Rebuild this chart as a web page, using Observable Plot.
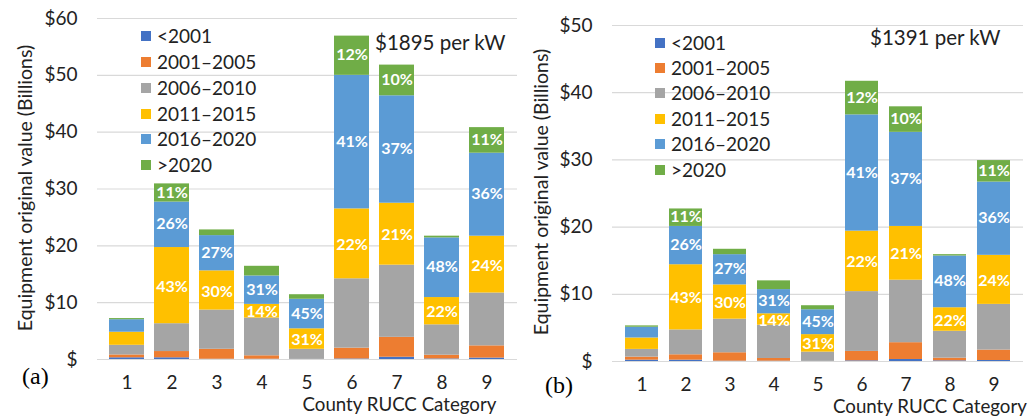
<!DOCTYPE html>
<html>
<head>
<meta charset="utf-8">
<script src="https://cdn.jsdelivr.net/npm/d3@7"></script>
<script src="https://cdn.jsdelivr.net/npm/@observablehq/plot@0.6"></script>
<style>
  html, body { margin: 0; padding: 0; background: #fff; }
  #wrap { position: relative; width: 1035px; height: 417px; overflow: hidden; font-family: Lato, "Open Sans", sans-serif; color: #222; }
  .panel { position: absolute; top: 0; }
  .abs { position: absolute; white-space: nowrap; line-height: 1; }
  .leg { position: absolute; font-size: 19px; line-height: 1; white-space: nowrap; }
  .sw { position: absolute; width: 10px; height: 10px; }
</style>
</head>
<body>
<div id="wrap"></div>
<script>
const categories = ["1", "2", "3", "4", "5", "6", "7", "8", "9"];
const series = ["<2001", "2001–2005", "2006–2010", "2011–2015", "2016–2020", ">2020"];
const seriesColors = ["#4472C4", "#ED7D31", "#A5A5A5", "#FFC000", "#5B9BD5", "#70AD47"];

// Panel (a): $1895 per kW, values in $ billions per segment
const a_lt2001   = [0.3, 0.3, 0.05, 0.05, 0.02, 0.1, 0.4, 0.1, 0.25];
const a_2001_05  = [0.5, 1.1, 1.75, 0.6, 0, 1.9, 3.5, 0.66, 2.15];
const a_2006_10  = [1.7, 4.9, 6.9, 6.65, 1.78, 12.2, 12.7, 5.34, 9.3];
const a_2011_15  = [2.3, 13.4, 6.9, 2.4, 3.6, 12.3, 10.9, 4.8, 10.0];
const a_2016_20  = [2.2, 8.0, 6.2, 5.0, 5.2, 23.5, 18.9, 10.5, 14.6];
const a_gt2020   = [0.2, 3.2, 1.0, 1.7, 0.8, 6.9, 5.4, 0.3, 4.5];

// Panel (b): $1391 per kW
const b_lt2001   = [0.2, 0.2, 0.05, 0.05, 0.02, 0.1, 0.3, 0.1, 0.15];
const b_2001_05  = [0.45, 0.8, 1.25, 0.4, 0, 1.4, 2.5, 0.4, 1.55];
const b_2006_10  = [1.15, 3.7, 5.0, 4.95, 1.38, 8.9, 9.3, 4.0, 6.8];
const b_2011_15  = [1.7, 9.7, 5.1, 1.7, 2.6, 9.0, 8.0, 3.5, 7.3];
const b_2016_20  = [1.6, 5.7, 4.5, 3.6, 3.7, 17.3, 14.0, 7.7, 10.9];
const b_gt2020   = [0.2, 2.6, 0.8, 1.3, 0.6, 5.0, 3.8, 0.2, 3.2];

// Percent labels shown on segments (same in both panels)
const pct_2011_15 = [null, "43%", "30%", "14%", "31%", "22%", "21%", "22%", "24%"];
const pct_2016_20 = [null, "26%", "27%", "31%", "45%", "41%", "37%", "48%", "36%"];
const pct_gt2020  = [null, "11%", null, null, null, "12%", "10%", null, "11%"];
const noLabels    = [null, null, null, null, null, null, null, null, null];

const ticksA = [0, 10, 20, 30, 40, 50, 60];
const ticksB = [0, 10, 20, 30, 40, 50];

function rowsFrom(valueArrays) {
  const labelArrays = [noLabels, noLabels, noLabels, pct_2011_15, pct_2016_20, pct_gt2020];
  const rows = [];
  series.forEach((s, i) => {
    categories.forEach((c, j) => {
      rows.push({cat: c, series: s, value: valueArrays[i][j], label: labelArrays[i][j]});
    });
  });
  return rows;
}

const rowsA = rowsFrom([a_lt2001, a_2001_05, a_2006_10, a_2011_15, a_2016_20, a_gt2020]);
const rowsB = rowsFrom([b_lt2001, b_2001_05, b_2006_10, b_2011_15, b_2016_20, b_gt2020]);

function makePlot(rows, ticks, cfg) {
  const labelOpts = {fill: "white", fontWeight: "bold", fontSize: 16};
  return Plot.plot({
    width: cfg.width,
    height: 417,
    marginLeft: cfg.ml,
    marginRight: cfg.mr,
    marginTop: cfg.mt,
    marginBottom: cfg.mb,
    style: {fontFamily: "Lato, 'Open Sans', sans-serif", color: "#222", background: "transparent", overflow: "visible"},
    x: {domain: categories, padding: cfg.pad},
    y: {domain: [0, ticks[ticks.length - 1]]},
    color: {domain: series, range: seriesColors},
    marks: [
      Plot.gridY(ticks, {stroke: "#d9d9d9", strokeOpacity: 1, strokeWidth: 1.2}),
      Plot.barY(rows, {x: "cat", y: "value", fill: "series", z: "series"}),
      // yellow-segment labels (nudged down a hair so they don't collide with blue ones)
      Plot.text(rows, Plot.stackY({x: "cat", y: "value", z: "series",
        text: d => d.series === "2011–2015" ? d.label : null, dy: 1, ...labelOpts})),
      Plot.text(rows, Plot.stackY({x: "cat", y: "value", z: "series",
        text: d => d.series !== "2011–2015" ? d.label : null, dy: -0.6, ...labelOpts})),
      Plot.axisY(ticks, {tickSize: 0, tickPadding: 20, fontSize: 19, label: null,
        tickFormat: d => "$" + (d === 0 ? "" : d)}),
      Plot.axisX({tickSize: 0, tickPadding: cfg.xpad, fontSize: 19, label: null})
    ]
  });
}

const wrap = document.getElementById("wrap");

function addPanel(left, plot) {
  const d = document.createElement("div");
  d.className = "panel";
  d.style.left = left + "px";
  d.appendChild(plot);
  wrap.appendChild(d);
}

addPanel(0, makePlot(rowsA, ticksA, {width: 518, ml: 97, mr: 1, mt: 18, mb: 58, pad: 0.22, xpad: 16}));
addPanel(515, makePlot(rowsB, ticksB, {width: 520, ml: 97, mr: 12, mt: 25, mb: 56, pad: 0.24, xpad: 16}));

function addText(txt, x, y, size, extra) {
  const e = document.createElement("div");
  e.className = "abs";
  e.textContent = txt;
  e.style.left = x + "px";
  e.style.top = y + "px";
  e.style.fontSize = size + "px";
  Object.assign(e.style, extra || {});
  wrap.appendChild(e);
  return e;
}

function addLegend(sx, ys) {
  series.forEach((s, i) => {
    const sw = document.createElement("div");
    sw.className = "sw";
    sw.style.left = sx + "px";
    sw.style.top = (ys[i] - 5) + "px";
    sw.style.background = seriesColors[i];
    wrap.appendChild(sw);
    const t = document.createElement("div");
    t.className = "leg";
    t.textContent = s;
    t.style.left = (sx + 16) + "px";
    t.style.top = (ys[i] - 10) + "px";
    wrap.appendChild(t);
  });
}

addLegend(141, [36, 62, 88, 114, 139, 165]);
addLegend(655, [43, 68, 93, 119, 144, 170]);

// Annotations
addText("$1895 per kW", 375, 31.5, 20.5);
addText("$1391 per kW", 870, 27, 20.5);
addText("(a)", 22, 364, 24, {fontFamily: "Liberation Serif, serif", color: "#000"});
addText("(b)", 545, 373, 24, {fontFamily: "Liberation Serif, serif", color: "#000"});
addText("County RUCC Category", 302.5, 394.8, 18.7);
addText("County RUCC Category", 833, 396.8, 18.7);

addText("Equipment original value (Billions)", 25, 188, 19.5,
  {transform: "translate(-50%, -50%) rotate(-90deg)"});
addText("Equipment original value (Billions)", 541, 192, 19.5,
  {transform: "translate(-50%, -50%) rotate(-90deg)"});
</script>
</body>
</html>
